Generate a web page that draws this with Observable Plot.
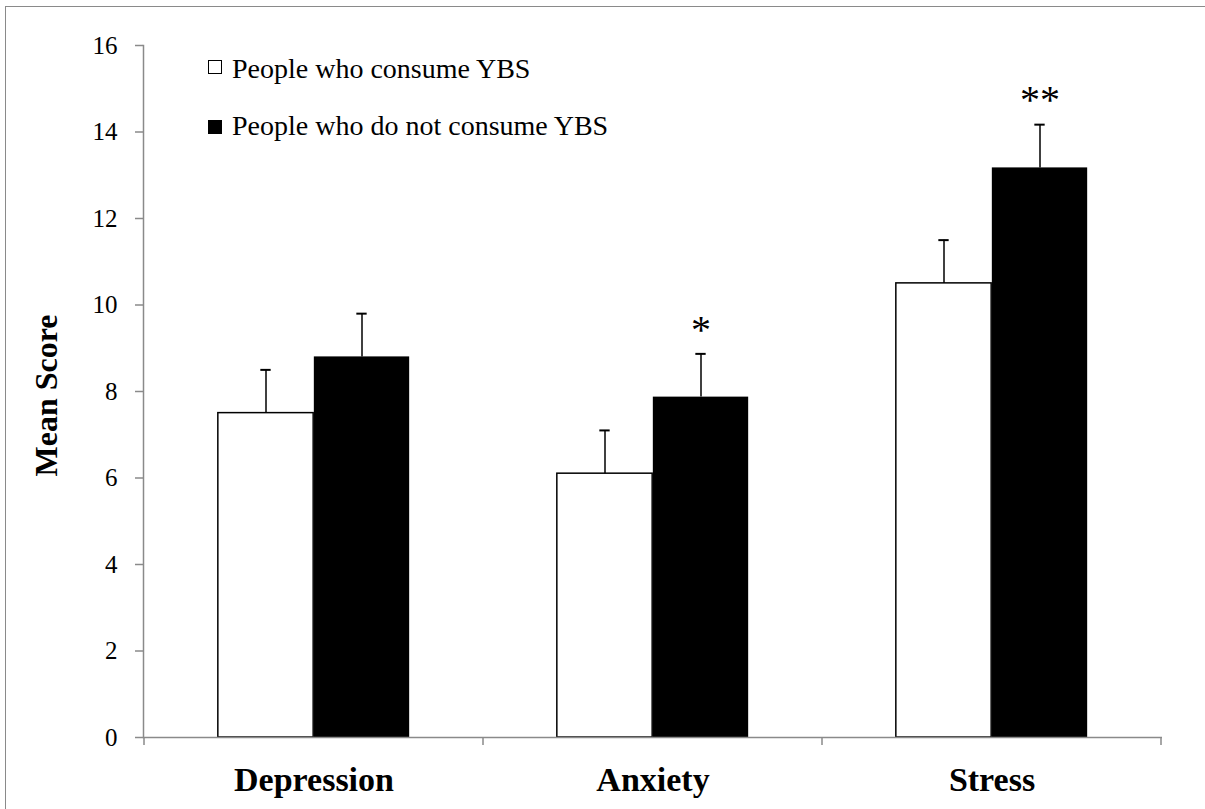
<!DOCTYPE html>
<html>
<head>
<meta charset="utf-8">
<script src="https://cdn.jsdelivr.net/npm/d3@7"></script>
<script src="https://cdn.jsdelivr.net/npm/@observablehq/plot@0.6"></script>
<style>
  html, body { margin: 0; padding: 0; background: #fff; overflow: hidden; }
  #wrap { position: relative; width: 1205px; height: 809px; }
  #wrap svg { display: block; }
  .border { position: absolute; left: 5px; top: 6px; width: 1200px; height: 803px;
            border-left: 1.5px solid #8a8a8a; border-top: 1.5px solid #8a8a8a; box-sizing: border-box; pointer-events: none; }
  .lg { position: absolute; left: 232px; font-family: "Liberation Serif", "Times New Roman", serif;
        font-size: 28px; line-height: 28px; white-space: nowrap; color: #000; }
  .sw { position: absolute; left: 208px; width: 14px; height: 14px; box-sizing: border-box; border: 1.5px solid #000; }
</style>
</head>
<body>
<div id="wrap">
  <div class="border"></div>
</div>
<script>
// ---- data ----
const categories = ["Depression", "Anxiety", "Stress"];
const seriesNames = ["People who consume YBS", "People who do not consume YBS"];
const consumeMean = [7.5, 6.1, 10.5];
const consumeSE = [1.0, 1.0, 1.0];
const notConsumeMean = [8.8, 7.87, 13.17];
const notConsumeSE = [1.0, 1.0, 1.0];
const significance = ["", "*", "**"];
const yTicks = [0, 2, 4, 6, 8, 10, 12, 14, 16];
const yLabel = "Mean Score";

const consumeRows = categories.map((c, i) => ({cat: c, value: consumeMean[i], se: consumeSE[i]}));
const notRows = categories.map((c, i) => ({cat: c, value: notConsumeMean[i], se: notConsumeSE[i], sig: significance[i]}));

// ---- layout ----
const W = 1205, H = 809, ML = 143, MR = 43, MT = 45, MB = 72;
const BAND = (W - ML - MR) / categories.length;
const BAR_W = 96;
const GAP = (BAND - 2 * BAR_W) / 2;
const CAP = 5.5;
const AXIS = "#8a8a8a";
const FONT = "'Liberation Serif', 'Times New Roman', serif";

function boundaryTicks(index, scales) {
  const x = scales.x, y = scales.y;
  const bw = typeof x.bandwidth === "function" ? x.bandwidth() : x.bandwidth;
  const xs = categories.map(c => x(c));
  xs.push(x(categories[categories.length - 1]) + bw);
  const g = d3.create("svg:g").attr("stroke", AXIS).attr("stroke-width", 1.5);
  g.selectAll("line").data(xs).join("line")
    .attr("x1", d => d).attr("x2", d => d)
    .attr("y1", y(0)).attr("y2", y(0) + 8);
  return g.node();
}

const chart = Plot.plot({
  width: W, height: H,
  marginLeft: ML, marginRight: MR, marginTop: MT, marginBottom: MB,
  style: {fontFamily: FONT, background: "transparent", color: "#000"},
  x: {domain: categories, padding: 0},
  y: {domain: [0, 16]},
  marks: [
    Plot.frame({anchor: "left", stroke: AXIS, strokeWidth: 1.5}),
    Plot.axisY({ticks: yTicks, tickSize: 8, tickPadding: 18, stroke: AXIS, strokeWidth: 1.5,
                fill: "#000", fontSize: 25, label: null}),
    Plot.axisX({tickSize: 0, tickPadding: 29, fontSize: 34, fontWeight: "bold", fill: "#000", label: null}),
    Plot.text([yLabel], {frameAnchor: "left", rotate: -90, dx: -97, dy: 4, text: d => d,
                textAnchor: "middle", lineAnchor: "middle",
                fontSize: 32, fontWeight: "bold", fill: "#000"}),
    // bars
    Plot.barY(consumeRows, {x: "cat", y: "value", fill: "white", stroke: "black", strokeWidth: 1.5,
                            insetLeft: GAP, insetRight: BAND - GAP - BAR_W}),
    Plot.barY(notRows, {x: "cat", y: "value", fill: "black",
                        insetLeft: GAP + BAR_W, insetRight: GAP}),
    // error bars (upper only)
    Plot.ruleX(consumeRows, {x: "cat", y1: "value", y2: d => d.value + d.se, dx: -BAR_W / 2,
                             stroke: "black", strokeWidth: 1.5}),
    Plot.ruleX(notRows, {x: "cat", y1: "value", y2: d => d.value + d.se, dx: BAR_W / 2,
                         stroke: "black", strokeWidth: 1.5}),
    Plot.tickY(consumeRows, {x: "cat", y: d => d.value + d.se, stroke: "black", strokeWidth: 2,
                             insetLeft: GAP + BAR_W / 2 - CAP, insetRight: BAND - GAP - BAR_W / 2 - CAP}),
    Plot.tickY(notRows, {x: "cat", y: d => d.value + d.se, stroke: "black", strokeWidth: 2,
                         insetLeft: GAP + 1.5 * BAR_W - CAP, insetRight: GAP + BAR_W / 2 - CAP}),
    // significance stars
    Plot.text(notRows.filter(d => d.sig), {x: "cat", y: d => d.value + d.se, dx: BAR_W / 2, dy: -24,
                                           text: "sig", fontSize: 40, fill: "#000"}),
    // x axis line and category boundary ticks
    Plot.ruleY([0], {stroke: AXIS, strokeWidth: 1.5}),
    boundaryTicks
  ]
});

const wrap = document.getElementById("wrap");
wrap.appendChild(chart);

// legend (HTML overlay)
const legendTops = [55, 112];
const swatchTops = [60, 120];
const swatchFills = ["#fff", "#000"];
seriesNames.forEach((name, i) => {
  const sw = document.createElement("div");
  sw.className = "sw";
  sw.style.top = swatchTops[i] + "px";
  sw.style.background = swatchFills[i];
  wrap.appendChild(sw);
  const t = document.createElement("div");
  t.className = "lg";
  t.style.top = legendTops[i] + "px";
  t.textContent = name;
  wrap.appendChild(t);
});
</script>
</body>
</html>
